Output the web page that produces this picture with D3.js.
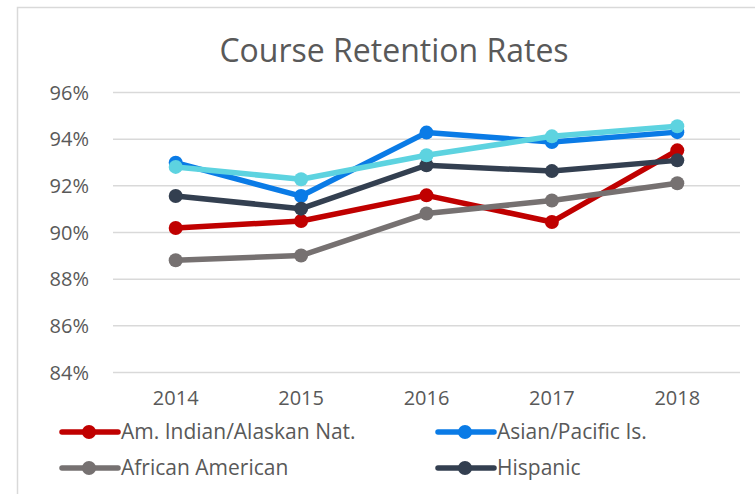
<!DOCTYPE html>
<html>
<head>
<meta charset="utf-8">
<script src="https://cdn.jsdelivr.net/npm/d3@7"></script>
<style>
  html, body { margin: 0; padding: 0; background: #fff; }
  svg { display: block; }
  text { font-family: "Open Sans", sans-serif; fill: #595959; }
</style>
</head>
<body>
<svg id="chart" width="755" height="494"></svg>
<script>
const title = "Course Retention Rates";
const years = ["2014", "2015", "2016", "2017", "2018"];
const yTicks = [0.84, 0.86, 0.88, 0.90, 0.92, 0.94, 0.96];

const amIndian = [0.9017, 0.9047, 0.9157, 0.9043, 0.9350];
const asianPacific = [0.9297, 0.9154, 0.9426, 0.9386, 0.9428];
const africanAmerican = [0.8879, 0.8899, 0.9079, 0.9135, 0.9209];
const hispanic = [0.9154, 0.9100, 0.9286, 0.9261, 0.9307];
const white = [0.9279, 0.9226, 0.9329, 0.9410, 0.9453];

const seriesNames = ["Am. Indian/Alaskan Nat.", "Asian/Pacific Is.", "African American", "Hispanic", "White"];
const seriesColors = ["#C00000", "#0A7BE6", "#767171", "#333F50", "#5DD3E0"];
const seriesValues = [amIndian, asianPacific, africanAmerican, hispanic, white];

const series = seriesNames.map((name, i) => ({ name, color: seriesColors[i], values: seriesValues[i] }));

const svg = d3.select("#chart");
const W = 755, H = 494;
const margin = { left: 113, right: 15, top: 92, bottom: 122 };

// chart area border (cropped Excel chart)
svg.append("path")
  .attr("d", `M17.5,${H} L17.5,7.5 L${W},7.5`)
  .attr("fill", "none").attr("stroke", "#D9D9D9").attr("stroke-width", 1.5);

const x = d3.scaleBand().domain(years).range([margin.left, W - margin.right]);
const y = d3.scaleLinear().domain([0.84, 0.96]).range([H - margin.bottom, margin.top]);

// title
svg.append("text")
  .attr("x", 394).attr("y", 62)
  .attr("text-anchor", "middle")
  .attr("font-size", 32)
  .text(title);

// gridlines
const yAxis = d3.axisLeft(y).tickValues(yTicks).tickFormat(d3.format(".0%"))
  .tickSize(-(W - margin.right - margin.left)).tickPadding(24);
const gy = svg.append("g").attr("transform", `translate(${margin.left},0)`).call(yAxis);
gy.select(".domain").remove();
gy.selectAll(".tick line").attr("stroke", "#D9D9D9").attr("stroke-width", 1.5);
gy.selectAll(".tick text").attr("font-size", 20).attr("fill", "#595959")
  .attr("font-family", "Open Sans, sans-serif").attr("dy", "0.35em");

// x axis labels
const xAxis = d3.axisBottom(x).tickSize(0).tickPadding(19);
const gx = svg.append("g").attr("transform", `translate(0,${H - margin.bottom})`).call(xAxis);
gx.select(".domain").remove();
gx.selectAll(".tick text").attr("font-size", 20).attr("fill", "#595959")
  .attr("font-family", "Open Sans, sans-serif");

const cx = d => x(d) + x.bandwidth() / 2;
const line = d3.line().x((d, i) => cx(years[i])).y(d => y(d));

const g = svg.append("g");
series.forEach(s => {
  g.append("path").datum(s.values)
    .attr("d", line)
    .attr("fill", "none")
    .attr("stroke", s.color)
    .attr("stroke-width", 5.5)
    .attr("stroke-linejoin", "round")
    .attr("stroke-linecap", "round");
  g.selectAll(null).data(s.values).enter().append("circle")
    .attr("cx", (d, i) => cx(years[i]))
    .attr("cy", d => y(d))
    .attr("r", 7)
    .attr("fill", s.color);
});

// legend (first four entries visible; the chart is cropped)
const legendPos = [
  { x: 62, y: 432 }, { x: 438, y: 432 },
  { x: 62, y: 468 }, { x: 438, y: 468 }
];
series.slice(0, 4).forEach((s, i) => {
  const p = legendPos[i];
  const lg = svg.append("g").attr("transform", `translate(${p.x},${p.y})`);
  lg.append("line").attr("x1", 0).attr("x2", 56).attr("y1", 0).attr("y2", 0)
    .attr("stroke", s.color).attr("stroke-width", 5.5).attr("stroke-linecap", "round");
  lg.append("circle").attr("cx", 27).attr("cy", 0).attr("r", 7).attr("fill", s.color);
  lg.append("text").attr("x", 59).attr("y", 0).attr("dy", "0.35em")
    .attr("font-size", 21).text(s.name);
});
</script>
</body>
</html>
